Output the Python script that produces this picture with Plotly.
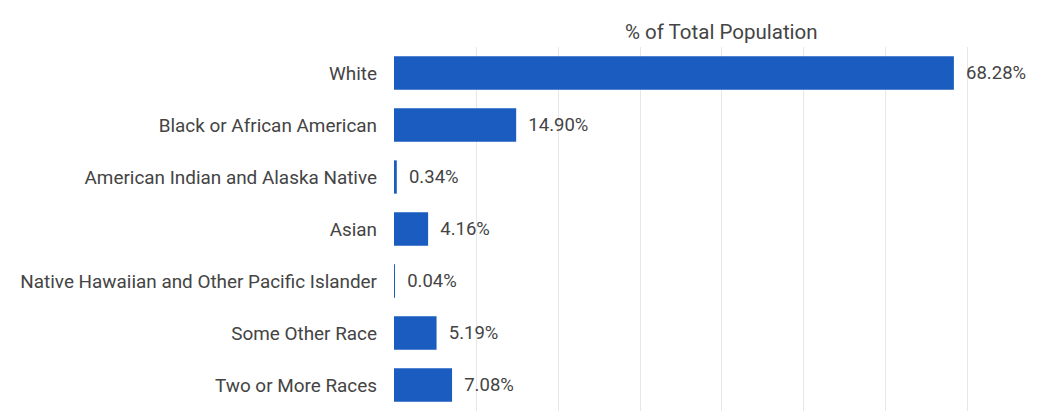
import plotly.graph_objects as go

categories = [
    "White",
    "Black or African American",
    "American Indian and Alaska Native",
    "Asian",
    "Native Hawaiian and Other Pacific Islander",
    "Some Other Race",
    "Two or More Races",
]
pct_total = [68.28, 14.90, 0.34, 4.16, 0.04, 5.19, 7.08]

bar_color = "#1a5cbf"
text_color = "#444444"
font_family = "Roboto"

fig = go.Figure(
    go.Bar(
        x=pct_total,
        y=categories,
        orientation="h",
        marker=dict(color=bar_color, line=dict(width=0)),
        # non-breaking spaces push the value labels a little away from the bar ends
        texttemplate="\u00a0\u00a0%{x:.2f}%",
        textposition="outside",
        textfont=dict(family=font_family, size=18.5, color=text_color),
        cliponaxis=False,
        width=0.64,
    )
)

fig.update_layout(
    width=1039,
    height=412,
    margin=dict(l=394, r=0, t=47, b=1),
    paper_bgcolor="white",
    plot_bgcolor="white",
    showlegend=False,
    font=dict(family=font_family, size=18.5, color=text_color),
    xaxis=dict(
        range=[0, 78.66],
        dtick=10,
        showticklabels=False,
        showgrid=True,
        gridcolor="#e8e8e8",
        gridwidth=1,
        zeroline=False,
        showline=False,
        fixedrange=True,
    ),
    yaxis=dict(
        autorange="reversed",
        showgrid=False,
        zeroline=False,
        showline=False,
        ticks="",
        ticklabelstandoff=16,
        tickfont=dict(family=font_family, size=18.9, color=text_color),
    ),
    annotations=[
        dict(
            text="% of Total Population",
            xref="paper",
            yref="paper",
            x=0.5,
            y=1,
            xanchor="center",
            yanchor="bottom",
            xshift=5,
            yshift=1,
            showarrow=False,
            font=dict(family=font_family, size=20.5, color=text_color),
        )
    ],
)

fig.write_html("out.html")
